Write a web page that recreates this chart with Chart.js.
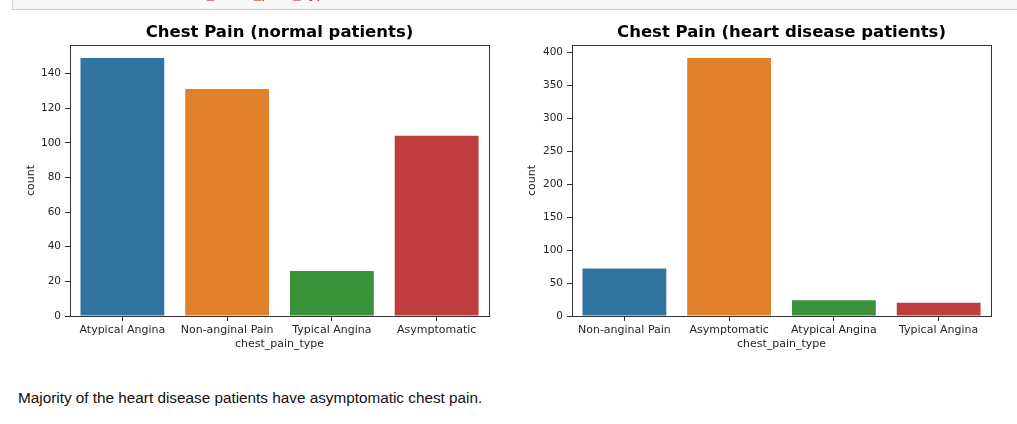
<!DOCTYPE html>
<html>
<head>
<meta charset="utf-8">
<script src="https://cdn.jsdelivr.net/npm/chart.js@4.4.1/dist/chart.umd.min.js"></script>
<style>
  html, body { margin: 0; padding: 0; background: #fff; width: 1017px; height: 424px; overflow: hidden; }
  #topcell { position: absolute; left: 12px; top: -1px; width: 1010px; height: 9px; background: #f7f7f7; border: 1px solid #cfcfcf; overflow: hidden; }
  #topcell span { position: absolute; left: 186px; top: -14px; font: 13px "DejaVu Sans Mono", monospace; color: #ba2121; white-space: pre; }
  .wrap { position: absolute; top: 0; height: 370px; }
  #w1 { left: 0; width: 505px; }
  #w2 { left: 505px; width: 512px; }
  #note { position: absolute; left: 18px; top: 390px; font: 15.3px "Liberation Sans", Arial, sans-serif; line-height: 16px; color: #111; white-space: nowrap; }
</style>
</head>
<body>
<div id="topcell"><span>t_chest_pain_type)</span></div>
<div class="wrap" id="w1"><canvas id="c1"></canvas></div>
<div class="wrap" id="w2"><canvas id="c2"></canvas></div>
<div id="note">Majority of the heart disease patients have asymptomatic chest pain.</div>
<script>
const normalCategories = ['Atypical Angina', 'Non-anginal Pain', 'Typical Angina', 'Asymptomatic'];
const normalCounts = [149, 131, 26, 104];
const heartCategories = ['Non-anginal Pain', 'Asymptomatic', 'Atypical Angina', 'Typical Angina'];
const heartCounts = [72, 392, 24, 20];
const normalYTicks = [0, 20, 40, 60, 80, 100, 120, 140];
const heartYTicks = [0, 50, 100, 150, 200, 250, 300, 350, 400];
const barColors = ['#3274a1', '#e1812c', '#3a923a', '#c03d3e'];

const boxPlugin = {
  id: 'boxPlugin',
  afterDatasetsDraw(chart) {
    const a = chart.chartArea, ctx = chart.ctx;
    ctx.save();
    ctx.strokeStyle = '#333';
    ctx.lineWidth = 1;
    ctx.strokeRect(Math.round(a.left) + 0.5, Math.round(a.top) + 0.5,
      Math.round(a.right) - Math.round(a.left), Math.round(a.bottom) - Math.round(a.top));
    ctx.restore();
  }
};

function makeChart(id, title, cats, vals, yTicks, yAxisWidth, rightPad, yTitlePad) {
  const yMax = Math.max(...vals) * 1.05;
  return new Chart(document.getElementById(id), {
    type: 'bar',
    data: {
      labels: cats,
      datasets: [{ data: vals, backgroundColor: barColors, borderWidth: 0,
        barPercentage: 0.8, categoryPercentage: 1.0 }]
    },
    options: {
      responsive: true,
      maintainAspectRatio: false,
      animation: false,
      events: [],
      layout: { padding: { left: 0, right: rightPad, top: 0, bottom: 0 } },
      plugins: {
        legend: { display: false },
        tooltip: { enabled: false },
        title: {
          display: true, text: title, fullSize: false,
          color: '#000',
          font: { family: 'DejaVu Sans', size: 16.5, weight: 'bold', lineHeight: 1.2 },
          padding: { top: 23, bottom: 2.2 }
        }
      },
      scales: {
        x: {
          offset: true,
          grid: { display: true, offset: false, drawOnChartArea: false, drawTicks: true, tickLength: 5, tickColor: '#333', color: '#333' },
          border: { display: false },
          ticks: { color: '#262626', padding: 3, maxRotation: 0, autoSkip: false,
            font: { family: 'DejaVu Sans', size: 11 } },
          title: { display: true, text: 'chest_pain_type', color: '#262626',
            font: { family: 'DejaVu Sans', size: 11, lineHeight: 1.2 }, padding: { top: 0, bottom: 19.4 } },
          afterFit(scale) { scale.height = 54; }
        },
        y: {
          min: 0, max: yMax,
          grid: { display: true, drawOnChartArea: false, drawTicks: true, tickLength: 5, tickColor: '#333', color: '#333' },
          border: { display: false },
          ticks: { color: '#262626', padding: 4, font: { family: 'DejaVu Sans', size: 10.5 } },
          afterBuildTicks(scale) { scale.ticks = yTicks.map(v => ({ value: v })); },
          title: { display: true, text: 'count', color: '#262626',
            font: { family: 'DejaVu Sans', size: 11, lineHeight: 1.2 }, padding: { top: yTitlePad, bottom: 0 } },
          afterFit(scale) { scale.width = yAxisWidth; }
        }
      }
    },
    plugins: [boxPlugin]
  });
}

makeChart('c1', 'Chest Pain (normal patients)', normalCategories, normalCounts, normalYTicks, 70, 16, 24.4);
makeChart('c2', 'Chest Pain (heart disease patients)', heartCategories, heartCounts, heartYTicks, 67, 26, 20.9);
</script>
</body>
</html>
